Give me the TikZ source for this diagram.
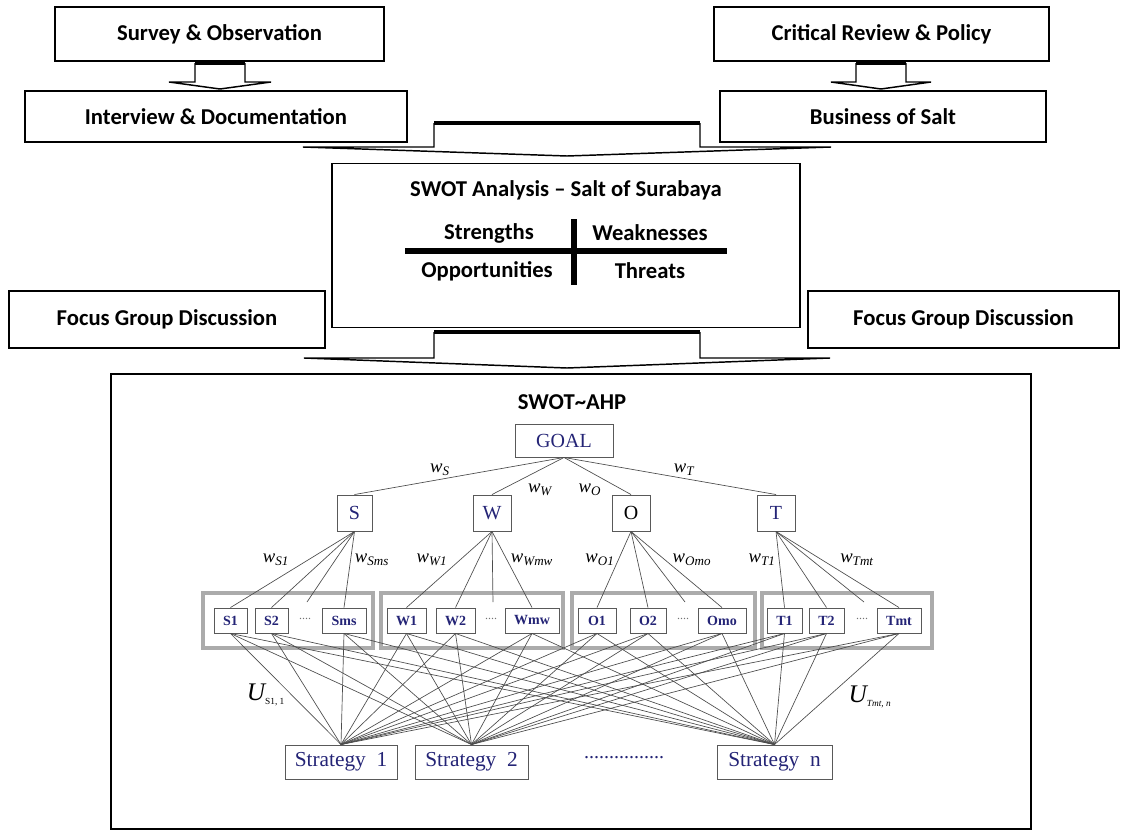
\documentclass[tikz,border=0pt]{standalone}
\usepackage{fontspec}
\setmainfont{Carlito}
\newfontfamily\tnr{Liberation Serif}
\usetikzlibrary{positioning}

\definecolor{ahpblue}{RGB}{36,36,118}

\tikzset{
  sz/.style 2 args={minimum width=#1*0.75pt, minimum height=#2*0.75pt},
  sbox/.style={draw, line width=1.1pt, inner sep=0pt, font=\bfseries\fontsize{17}{20}\selectfont},
  bold/.style={font=\bfseries\fontsize{17}{20}\selectfont, inner sep=1pt},
  ahp/.style={draw=black!65, line width=0.7pt, fill=white, inner sep=0pt, text=ahpblue,
    font=\tnr\fontsize{15}{17}\selectfont},
  leaf/.style={ahp, font=\tnr\bfseries\fontsize{10.5}{12}\selectfont},
  grp/.style={draw=black!33, line width=2.4pt},
  link/.style={draw=black!70, line width=0.5pt},
  wlab/.style={font=\tnr\itshape\fontsize{14}{16}\selectfont, inner sep=0pt}
}

% block arrow: centre x, top y, bar half width, head half width, base y, tip y
\newcommand{\blkarrow}[6]{%
  \draw[line width=1.1pt, fill=white] (#1-#3,#2) -- (#1-#3,#5) -- (#1-#4,#5) -- (#1,#6)
    -- (#1+#4,#5) -- (#1+#3,#5) -- (#1+#3,#2);
  \draw[line width=3pt] (#1-#3,#2) -- (#1+#3,#2);
}
\newcommand{\wl}[1]{w\textsubscript{#1}}

\begin{document}
\begin{tikzpicture}[x=0.75pt, y=-0.75pt]

\useasboundingbox (0,0) rectangle (1121,832);

% data collection
\node[sbox, sz={329}{54}] (survey) at (219.5,34) {Survey \& Observation};
\node[sbox, sz={382}{51}] (interview) at (216,116.5) {Interview \& Documentation};
\node[sbox, sz={335}{54}] (critical) at (881.5,34) {Critical Review \& Policy};
\node[sbox, sz={326}{51}] (business) at (883,116.5) {Business of Salt};
\blkarrow{220}{63}{25}{51}{82}{89}
\blkarrow{881}{63}{25}{50}{82}{89}
\blkarrow{567}{123}{133}{264}{147}{156}

% swot box
\node[sbox, sz={468}{164}] (swot) at (566,245.5) {};
\node[bold] (swottitle) at (566,190) {SWOT Analysis – Salt of Surabaya};
\node[bold] (str) at (489,233) {Strengths};
\node[bold] (weak) at (650,233) {Weaknesses};
\node[bold] (opp) at (487,271) {Opportunities};
\node[bold] (thr) at (650,271) {Threats};
\draw[line width=3.8pt] (405,251) -- (727,251);
\draw[line width=3.8pt] (574,219) -- (574,285);

\node[sbox, sz={316}{57}] (fgdl) at (167,319.5) {Focus Group Discussion};
\node[sbox, sz={311}{57}] (fgdr) at (963.5,319.5) {Focus Group Discussion};
\blkarrow{567}{332}{133}{263}{358}{368}

% swot-ahp
\node[sbox, sz={920}{455}] (ahpbox) at (571,601.5) {};
\node[bold] (ahptitle) at (572,402) {SWOT\textasciitilde AHP};

\draw[grp] (203,593) rectangle (373,648);
\draw[grp] (381,593) rectangle (563,648);
\draw[grp] (572,593) rectangle (755,648);
\draw[grp] (762,593) rectangle (932,648);

\node[ahp, sz={98}{33}] (goal) at (564,440.5) {GOAL};
\node[ahp, sz={35}{36}] (s) at (354.5,513) {S};
\node[ahp, sz={38}{36}] (w) at (492,513) {W};
\node[ahp, sz={38}{36}, text=black] (o) at (631,513) {O};
\node[ahp, sz={38}{36}] (t) at (776,513) {T};

\node[leaf, sz={33}{25}] (s1) at (230.5,620.5) {S1};
\node[leaf, sz={33}{25}] (s2) at (271.5,620.5) {S2};
\node[leaf, sz={44}{25}] (sms) at (344,620.5) {Sms};
\node[leaf, sz={39}{25}] (w1) at (406.5,620.5) {W1};
\node[leaf, sz={39}{25}] (w2) at (455.5,620.5) {W2};
\node[leaf, sz={54}{25}] (wmw) at (532,620.5) {Wmw};
\node[leaf, sz={38}{25}] (o1) at (597,620.5) {O1};
\node[leaf, sz={36}{25}] (o2) at (648,620.5) {O2};
\node[leaf, sz={48}{25}] (omo) at (722,620.5) {Omo};
\node[leaf, sz={35}{25}] (t1) at (784.5,620.5) {T1};
\node[leaf, sz={35}{25}] (t2) at (826.5,620.5) {T2};
\node[leaf, sz={44}{25}] (tmt) at (899,620.5) {Tmt};

\foreach \d/\x in {sd/305, wd/491, od/683, td/862}{
  \node[font=\tnr\fontsize{9}{10}\selectfont, text=black!55, inner sep=0pt] (\d txt) at (\x,619) {....};
  \coordinate (\d) at (\x+2,602);
}

\node[ahp, sz={112}{34}, font=\tnr\fontsize{16}{18}\selectfont] (st1) at (341,762) {Strategy\ \ 1};
\node[ahp, sz={113}{34}, font=\tnr\fontsize{16}{18}\selectfont] (st2) at (471.5,762) {Strategy\ \ 2};
\node[ahp, sz={115}{34}, font=\tnr\fontsize{16}{18}\selectfont] (stn) at (774.5,762) {Strategy\ \ n};
\node[font=\tnr\fontsize{15}{17}\selectfont, text=ahpblue, inner sep=0pt] (stdots) at (624,758) {................};

\foreach \p in {s,w,o,t}
  \draw[link] (goal.south) -- (\p.north);
\foreach \p/\a/\b/\c in {s/s1/s2/sms, w/w1/w2/wmw, o/o1/o2/omo, t/t1/t2/tmt}{
  \draw[link] (\p.south) -- (\a.north);
  \draw[link] (\p.south) -- (\b.north);
  \draw[link] (\p.south) -- (\c.north);
  \draw[link] (\p.south) -- (\p d);
}
\foreach \c in {s1,s2,sms,w1,w2,wmw,o1,o2,omo,t1,t2,tmt}
  \foreach \k in {st1,st2,stn}
    \draw[link] (\c.south) -- (\k.north);

% weights
\node[wlab] (lws) at (440,470) {\wl{S}};
\node[wlab] (lww) at (540,490) {\wl{W}};
\node[wlab] (lwo) at (590,490) {\wl{O}};
\node[wlab] (lwt) at (684,470) {\wl{T}};
\node[wlab] (lws1) at (276,560) {\wl{S1}};
\node[wlab] (lwsms) at (372,560) {\wl{Sms}};
\node[wlab] (lww1) at (432,560) {\wl{W1}};
\node[wlab] (lwwmw) at (532,560) {\wl{Wmw}};
\node[wlab] (lwo1) at (600,560) {\wl{O1}};
\node[wlab] (lwomo) at (692,560) {\wl{Omo}};
\node[wlab] (lwt1) at (762,560) {\wl{T1}};
\node[wlab] (lwtmt) at (857,560) {\wl{Tmt}};
\node[wlab, font=\tnr\itshape\fontsize{19}{21}\selectfont] (lus) at (266,695)
  {U\textsubscript{\upshape\fontsize{7}{8}\selectfont S1, 1}};
\node[wlab, font=\tnr\itshape\fontsize{19}{21}\selectfont] (lut) at (870,697)
  {U\textsubscript{\fontsize{7}{8}\selectfont Tmt, n}};
\end{tikzpicture}
\end{document}
